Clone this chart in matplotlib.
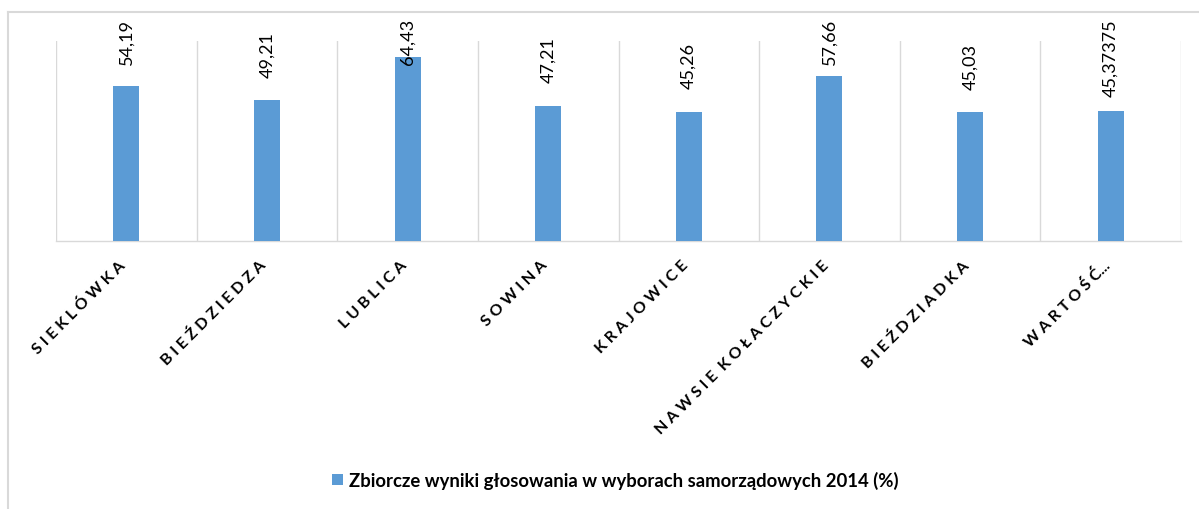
import matplotlib.pyplot as plt
from matplotlib.lines import Line2D
from matplotlib.transforms import ScaledTranslation

# data
miejscowosci = ['SIEKLÓWKA', 'BIEŹDZIEDZA', 'LUBLICA', 'SOWINA', 'KRAJOWICE',
                'NAWSIE KOŁACZYCKIE', 'BIEŹDZIADKA', 'WARTOŚĆ...']
wyniki = [54.19, 49.21, 64.43, 47.21, 45.26, 57.66, 45.03, 45.37375]
seria = 'Zbiorcze wyniki głosowania w wyborach samorządowych 2014 (%)'

plt.rcParams['font.family'] = ['Lato', 'DejaVu Sans']

fig = plt.figure(figsize=(11.99, 5.10), dpi=100)
ax = fig.add_axes([0.0467, 0.5255, 0.9383, 0.3925])

x = list(range(len(miejscowosci)))
bars = ax.bar(x, wyniki, width=0.185, color='#5B9BD5', zorder=3, label=seria)

ax.set_xlim(-0.5, len(miejscowosci) - 0.5)
ax.set_ylim(0, 70)

# vertical gridlines between categories (excel style)
for b in range(len(miejscowosci) + 1):
    ax.axvline(b - 0.5, color='#D9D9D9', linewidth=1, zorder=1)

for s in ['top', 'left', 'right']:
    ax.spines[s].set_visible(False)
ax.spines['bottom'].set_color('#D9D9D9')
ax.spines['bottom'].set_linewidth(1)
ax.set_yticks([])
ax.tick_params(axis='x', length=0, pad=12)

# spaced letters like in the original
def rozstaw(m):
    kropki = m.endswith('...')
    if kropki:
        m = m[:-3]
    s = '  '.join(' '.join(list(w)) for w in m.split(' '))
    return s + '...' if kropki else s

ax.set_xticks(x)
ax.set_xticklabels([rozstaw(m) for m in miejscowosci], rotation=45, ha='right',
                   rotation_mode='anchor', fontsize=11.5, fontweight='bold')
przesun = ScaledTranslation(-8 / 100, 0, fig.dpi_scale_trans)
for lab in ax.get_xticklabels():
    lab.set_transform(lab.get_transform() + przesun)

# data labels, kept inside the chart area like excel does
etykiety = []
for xi, v in zip(x, wyniki):
    t = ax.annotate(str(v).replace('.', ','), (xi, v), xytext=(0, 17),
                    textcoords='offset points', rotation=90, ha='center', va='bottom',
                    fontsize=13, annotation_clip=False)
    etykiety.append(t)

fig.canvas.draw()
r = fig.canvas.get_renderer()
gora = 510 - 19
for t in etykiety:
    bb = t.get_window_extent(r)
    if bb.y1 > gora:
        dx, dy = t.xyann
        t.xyann = (dx, dy - (bb.y1 - gora) * 72 / 100)

fig.legend(handles=[bars], labels=[seria], loc='center', bbox_to_anchor=(0.513, 0.057),
           frameon=False, prop={'weight': 'bold', 'size': 13.3},
           handlelength=0.6, handleheight=0.6, handletextpad=0.3)

# chart area border (top and left visible)
fig.add_artist(Line2D([8 / 1199, 1], [1 - 13 / 510, 1 - 13 / 510], color='#D9D9D9',
                      linewidth=1.5, transform=fig.transFigure))
fig.add_artist(Line2D([8 / 1199, 8 / 1199], [0, 1 - 13 / 510], color='#D9D9D9',
                      linewidth=1.5, transform=fig.transFigure))

fig.savefig('out.png', dpi=100)
